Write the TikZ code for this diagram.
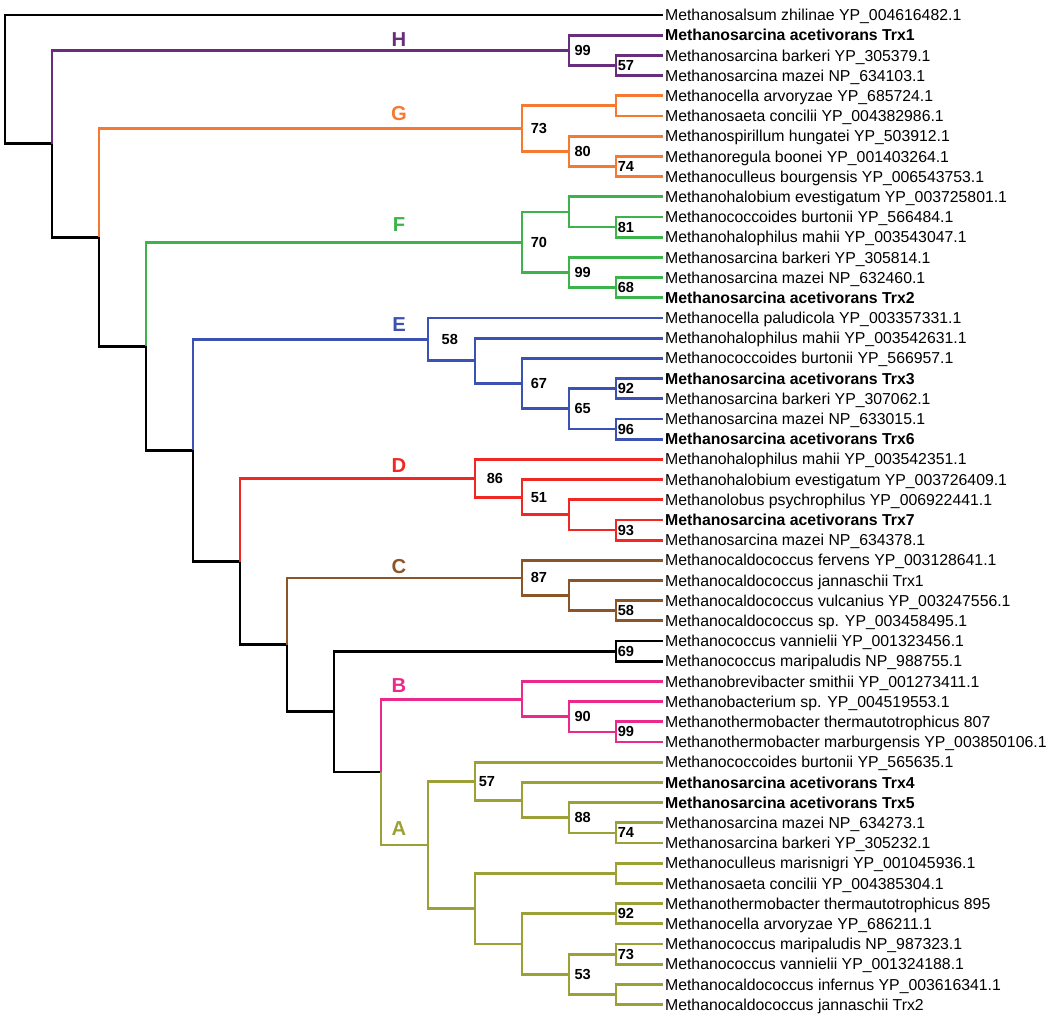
\documentclass[tikz,border=0pt]{standalone}
\usepackage{fontspec}
\setmainfont{Liberation Sans}
\definecolor{cladeH}{RGB}{105,45,125}
\definecolor{cladeG}{RGB}{245,122,48}
\definecolor{cladeF}{RGB}{60,180,75}
\definecolor{cladeE}{RGB}{60,82,178}
\definecolor{cladeD}{RGB}{240,40,35}
\definecolor{cladeC}{RGB}{140,85,40}
\definecolor{cladeB}{RGB}{235,40,140}
\definecolor{cladeA}{RGB}{155,160,55}
\def\leaffont{\fontsize{9}{10}\selectfont}

\begin{document}
\begin{tikzpicture}[x=0.02cm, y=-0.404cm,
		branch/.style={line width=1.6pt},
		leaf/.style={anchor=west, inner sep=1pt, text height=6.45pt, text depth=0pt, font=\leaffont},
		mainleaf/.style={leaf, font=\leaffont\bfseries},
		boot/.style={anchor=west, inner sep=0pt, xshift=#1, font=\fontsize{8.3}{10}\selectfont\bfseries},
		boot/.default=0.8pt,
		clade/.style={font=\fontsize{11.5}{13}\selectfont\bfseries}]
		%%%%% START %%%%%
		
		\useasboundingbox (0, -0.7426) rectangle (1050, 49.554);
		
		% leaves
		\node[leaf] (l0) at (663, 0) {Methanosalsum zhilinae YP\_004616482.1};
		\node[mainleaf] (l1) at (663, 1) {Methanosarcina acetivorans Trx1};
		\node[leaf] (l2) at (663, 2) {Methanosarcina barkeri YP\_305379.1};
		\node[leaf] (l3) at (663, 3) {Methanosarcina mazei NP\_634103.1};
		\node[leaf] (l4) at (663, 4) {Methanocella arvoryzae YP\_685724.1};
		\node[leaf] (l5) at (663, 5) {Methanosaeta concilii YP\_004382986.1};
		\node[leaf] (l6) at (663, 6) {Methanospirillum hungatei YP\_503912.1};
		\node[leaf] (l7) at (663, 7) {Methanoregula boonei YP\_001403264.1};
		\node[leaf] (l8) at (663, 8) {Methanoculleus bourgensis YP\_006543753.1};
		\node[leaf] (l9) at (663, 9) {Methanohalobium evestigatum YP\_003725801.1};
		\node[leaf] (l10) at (663, 10) {Methanococcoides burtonii YP\_566484.1};
		\node[leaf] (l11) at (663, 11) {Methanohalophilus mahii YP\_003543047.1};
		\node[leaf] (l12) at (663, 12) {Methanosarcina barkeri YP\_305814.1};
		\node[leaf] (l13) at (663, 13) {Methanosarcina mazei NP\_632460.1};
		\node[mainleaf] (l14) at (663, 14) {Methanosarcina acetivorans Trx2};
		\node[leaf] (l15) at (663, 15) {Methanocella paludicola YP\_003357331.1};
		\node[leaf] (l16) at (663, 16) {Methanohalophilus mahii YP\_003542631.1};
		\node[leaf] (l17) at (663, 17) {Methanococcoides burtonii YP\_566957.1};
		\node[mainleaf] (l18) at (663, 18) {Methanosarcina acetivorans Trx3};
		\node[leaf] (l19) at (663, 19) {Methanosarcina barkeri YP\_307062.1};
		\node[leaf] (l20) at (663, 20) {Methanosarcina mazei NP\_633015.1};
		\node[mainleaf] (l21) at (663, 21) {Methanosarcina acetivorans Trx6};
		\node[leaf] (l22) at (663, 22) {Methanohalophilus mahii YP\_003542351.1};
		\node[leaf] (l23) at (663, 23) {Methanohalobium evestigatum YP\_003726409.1};
		\node[leaf] (l24) at (663, 24) {Methanolobus psychrophilus YP\_006922441.1};
		\node[mainleaf] (l25) at (663, 25) {Methanosarcina acetivorans Trx7};
		\node[leaf] (l26) at (663, 26) {Methanosarcina mazei NP\_634378.1};
		\node[leaf] (l27) at (663, 27) {Methanocaldococcus fervens YP\_003128641.1};
		\node[leaf] (l28) at (663, 28) {Methanocaldococcus jannaschii Trx1};
		\node[leaf] (l29) at (663, 29) {Methanocaldococcus vulcanius YP\_003247556.1};
		\node[leaf] (l30) at (663, 30) {Methanocaldococcus sp. YP\_003458495.1};
		\node[leaf] (l31) at (663, 31) {Methanococcus vannielii YP\_001323456.1};
		\node[leaf] (l32) at (663, 32) {Methanococcus maripaludis NP\_988755.1};
		\node[leaf] (l33) at (663, 33) {Methanobrevibacter smithii YP\_001273411.1};
		\node[leaf] (l34) at (663, 34) {Methanobacterium sp. YP\_004519553.1};
		\node[leaf] (l35) at (663, 35) {Methanothermobacter thermautotrophicus 807};
		\node[leaf] (l36) at (663, 36) {Methanothermobacter marburgensis YP\_003850106.1};
		\node[leaf] (l37) at (663, 37) {Methanococcoides burtonii YP\_565635.1};
		\node[mainleaf] (l38) at (663, 38) {Methanosarcina acetivorans Trx4};
		\node[mainleaf] (l39) at (663, 39) {Methanosarcina acetivorans Trx5};
		\node[leaf] (l40) at (663, 40) {Methanosarcina mazei NP\_634273.1};
		\node[leaf] (l41) at (663, 41) {Methanosarcina barkeri YP\_305232.1};
		\node[leaf] (l42) at (663, 42) {Methanoculleus marisnigri YP\_001045936.1};
		\node[leaf] (l43) at (663, 43) {Methanosaeta concilii YP\_004385304.1};
		\node[leaf] (l44) at (663, 44) {Methanothermobacter thermautotrophicus 895};
		\node[leaf] (l45) at (663, 45) {Methanocella arvoryzae YP\_686211.1};
		\node[leaf] (l46) at (663, 46) {Methanococcus maripaludis NP\_987323.1};
		\node[leaf] (l47) at (663, 47) {Methanococcus vannielii YP\_001324188.1};
		\node[leaf] (l48) at (663, 48) {Methanocaldococcus infernus YP\_003616341.1};
		\node[leaf] (l49) at (663, 49) {Methanocaldococcus jannaschii Trx2};
		
		% backbone
		\coordinate (k0) at (5, 3.1913);
		\coordinate (k1) at (52, 6.3827);
		\coordinate (k2) at (99, 11.0154);
		\coordinate (k3) at (146, 16.4058);
		\coordinate (k4) at (193, 21.5615);
		\coordinate (k5) at (240, 27.0605);
		\coordinate (k6) at (287, 31.1836);
		\coordinate (k7) at (334, 34.4922);
		\coordinate (k8) at (381, 37.4844);
		\coordinate (k69) at (616, 31.5);
		
		% clades
		\coordinate (h99) at (569, 1.75);
		\coordinate (h57) at (616, 2.5);
		
		\coordinate (g73) at (522, 5.625);
		\coordinate (g4) at (616, 4.5);
		\coordinate (g80) at (569, 6.75);
		\coordinate (g74) at (616, 7.5);
		
		\coordinate (f70) at (522, 11.25);
		\coordinate (f9) at (569, 9.75);
		\coordinate (f81) at (616, 10.5);
		\coordinate (f99) at (569, 12.75);
		\coordinate (f68) at (616, 13.5);
		
		\coordinate (e58) at (428, 16.0625);
		\coordinate (e16) at (475, 17.125);
		\coordinate (e67) at (522, 18.25);
		\coordinate (e65) at (569, 19.5);
		\coordinate (e92) at (616, 18.5);
		\coordinate (e96) at (616, 20.5);
		
		\coordinate (d86) at (475, 22.9375);
		\coordinate (d51) at (522, 23.875);
		\coordinate (d24) at (569, 24.75);
		\coordinate (d93) at (616, 25.5);
		
		\coordinate (c87) at (522, 27.875);
		\coordinate (c28) at (569, 28.75);
		\coordinate (c58) at (616, 29.5);
		
		\coordinate (b33) at (522, 33.875);
		\coordinate (b90) at (569, 34.75);
		\coordinate (b99) at (616, 35.5);
		
		\coordinate (aR) at (428, 41.0938);
		\coordinate (a57) at (475, 37.9375);
		\coordinate (a38) at (522, 38.875);
		\coordinate (a88) at (569, 39.75);
		\coordinate (a74) at (616, 40.5);
		\coordinate (a42) at (475, 44.25);
		\coordinate (a43) at (616, 42.5);
		\coordinate (a46) at (522, 46);
		\coordinate (a92) at (616, 44.5);
		\coordinate (a53) at (569, 47.5);
		\coordinate (a73) at (616, 46.5);
		\coordinate (a49) at (616, 48.5);
		
		% branches
		\draw[branch] (k0) |- (l0.west) (k0) |- (k1) (k1) |- (k2) (k2) |- (k3) (k3) |- (k4)
			(k4) |- (k5) (k5) |- (k6) (k6) |- (k7) (k7) |- (k8)
			(k7) |- (k69) (k69) |- (l31.west) (k69) |- (l32.west);
		\draw[branch, cladeH] (k1) |- (h99) (h99) |- (l1.west) (h99) |- (h57)
			(h57) |- (l2.west) (h57) |- (l3.west);
		\draw[branch, cladeG] (k2) |- (g73) (g73) |- (g4) (g4) |- (l4.west) (g4) |- (l5.west)
			(g73) |- (g80) (g80) |- (l6.west) (g80) |- (g74) (g74) |- (l7.west) (g74) |- (l8.west);
		\draw[branch, cladeF] (k3) |- (f70) (f70) |- (f9) (f9) |- (l9.west) (f9) |- (f81)
			(f81) |- (l10.west) (f81) |- (l11.west) (f70) |- (f99) (f99) |- (l12.west)
			(f99) |- (f68) (f68) |- (l13.west) (f68) |- (l14.west);
		\draw[branch, cladeE] (k4) |- (e58) (e58) |- (l15.west) (e58) |- (e16) (e16) |- (l16.west)
			(e16) |- (e67) (e67) |- (l17.west) (e67) |- (e65) (e65) |- (e92) (e92) |- (l18.west)
			(e92) |- (l19.west) (e65) |- (e96) (e96) |- (l20.west) (e96) |- (l21.west);
		\draw[branch, cladeD] (k5) |- (d86) (d86) |- (l22.west) (d86) |- (d51) (d51) |- (l23.west)
			(d51) |- (d24) (d24) |- (l24.west) (d24) |- (d93) (d93) |- (l25.west) (d93) |- (l26.west);
		\draw[branch, cladeC] (k6) |- (c87) (c87) |- (l27.west) (c87) |- (c28) (c28) |- (l28.west)
			(c28) |- (c58) (c58) |- (l29.west) (c58) |- (l30.west);
		\draw[branch, cladeB] (k8) |- (b33) (b33) |- (l33.west) (b33) |- (b90) (b90) |- (l34.west)
			(b90) |- (b99) (b99) |- (l35.west) (b99) |- (l36.west);
		\draw[branch, cladeA] (k8) |- (aR) (aR) |- (a57) (a57) |- (l37.west) (a57) |- (a38)
			(a38) |- (l38.west) (a38) |- (a88) (a88) |- (l39.west) (a88) |- (a74)
			(a74) |- (l40.west) (a74) |- (l41.west)
			(aR) |- (a42) (a42) |- (a43) (a43) |- (l42.west) (a43) |- (l43.west)
			(a42) |- (a46) (a46) |- (a92) (a92) |- (l44.west) (a92) |- (l45.west)
			(a46) |- (a53) (a53) |- (a73) (a73) |- (l46.west) (a73) |- (l47.west)
			(a53) |- (a49) (a49) |- (l48.west) (a49) |- (l49.west);
		
		% clade letters
		\node[clade, cladeH] (labH) at (399, 1.22) {H};
		\node[clade, cladeG] (labG) at (399, 4.9) {G};
		\node[clade, cladeF] (labF) at (399, 10.4) {F};
		\node[clade, cladeE] (labE) at (399, 15.32) {E};
		\node[clade, cladeD] (labD) at (399, 22.3) {D};
		\node[clade, cladeC] (labC) at (399, 27.3) {C};
		\node[clade, cladeB] (labB) at (399, 33.2) {B};
		\node[clade, cladeA] (labA) at (399, 40.3) {A};
		
		% bootstrap values
		\node[boot=3pt] (s1) at (h99) {99};
		\node[boot] (s2) at (h57) {57};
		\node[boot=4.8pt] (s3) at (g73) {73};
		\node[boot=3pt] (s4) at (g80) {80};
		\node[boot] (s5) at (g74) {74};
		\node[boot=4.8pt] (s6) at (f70) {70};
		\node[boot] (s7) at (f81) {81};
		\node[boot=3pt] (s8) at (f99) {99};
		\node[boot] (s9) at (f68) {68};
		\node[boot=7.6pt] (s10) at (e58) {58};
		\node[boot=4.8pt] (s11) at (e67) {67};
		\node[boot=3pt] (s12) at (e65) {65};
		\node[boot] (s13) at (e92) {92};
		\node[boot] (s14) at (e96) {96};
		\node[boot=6.5pt] (s15) at (d86) {86};
		\node[boot=4.8pt] (s16) at (d51) {51};
		\node[boot] (s17) at (d93) {93};
		\node[boot=4.8pt] (s18) at (c87) {87};
		\node[boot] (s19) at (c58) {58};
		\node[boot] (s20) at (k69) {69};
		\node[boot=3pt] (s21) at (b90) {90};
		\node[boot] (s22) at (b99) {99};
		\node[boot=2pt] (s23) at (a57) {57};
		\node[boot=3pt] (s24) at (a88) {88};
		\node[boot] (s25) at (a74) {74};
		\node[boot] (s26) at (a92) {92};
		\node[boot] (s27) at (a73) {73};
		\node[boot=3pt] (s28) at (a53) {53};
		
		%%%%% END %%%%%
\end{tikzpicture}
\end{document}
